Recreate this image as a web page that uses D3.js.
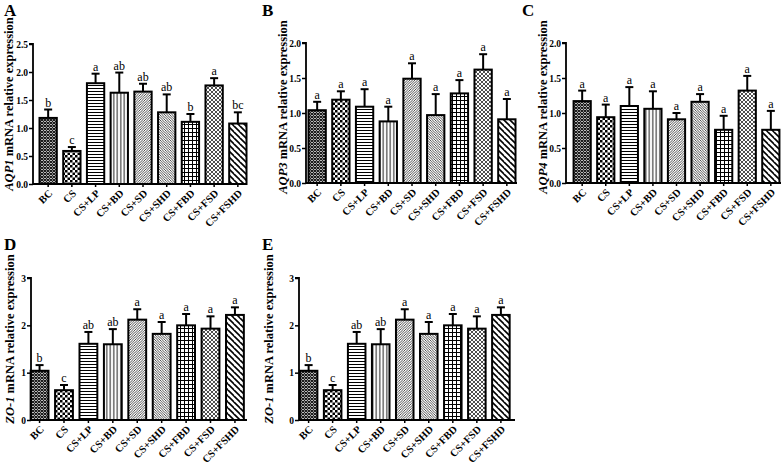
<!DOCTYPE html>
<html><head><meta charset="utf-8">
<script src="https://cdn.jsdelivr.net/npm/d3@7"></script>
<style>html,body{margin:0;padding:0;background:#fff;}svg{display:block;}</style>
</head><body>
<svg id="chart" width="784" height="470"></svg>
<script>
const categories = ["BC","CS","CS+LP","CS+BD","CS+SD","CS+SHD","CS+FBD","CS+FSD","CS+FSHD"];

const aqp1Mean = [1.18,0.59,1.80,1.63,1.65,1.28,1.11,1.76,1.08];
const aqp1Err  = [0.15,0.07,0.17,0.36,0.14,0.32,0.14,0.13,0.20];
const aqp1Sig  = ["b","c","a","ab","ab","ab","b","a","bc"];
const aqp1Ticks = [0,0.5,1.0,1.5,2.0,2.5];

const aqp3Mean = [1.04,1.19,1.09,0.88,1.49,0.97,1.28,1.62,0.91];
const aqp3Err  = [0.12,0.12,0.25,0.21,0.22,0.30,0.19,0.22,0.29];
const aqp3Sig  = ["a","a","a","a","a","a","a","a","a"];
const aqp3Ticks = [0,0.5,1.0,1.5,2.0];

const aqp4Mean = [1.17,0.94,1.10,1.06,0.91,1.16,0.76,1.32,0.76];
const aqp4Err  = [0.15,0.18,0.27,0.25,0.09,0.11,0.20,0.21,0.27];
const aqp4Sig  = ["a","a","a","a","a","a","a","a","a"];
const aqp4Ticks = [0,0.5,1.0,1.5,2.0];

const zo1Mean = [1.04,0.63,1.61,1.60,2.12,1.82,2.00,1.93,2.22];
const zo1Err  = [0.12,0.11,0.25,0.32,0.22,0.25,0.24,0.26,0.16];
const zo1Sig  = ["b","c","ab","ab","a","a","a","a","a"];
const zo1Ticks = [0,1,2,3];

const panels = [
  {label:"A", gene:"AQP1", mean:aqp1Mean, err:aqp1Err, sig:aqp1Sig, ticks:aqp1Ticks, fmt:".1f",
   x0:33, x1:247, c0:51, cN:235, yTop:44, yBot:184, lx:4, ly:16, tx:13, ty:104},
  {label:"B", gene:"AQP3", mean:aqp3Mean, err:aqp3Err, sig:aqp3Sig, ticks:aqp3Ticks, fmt:".1f",
   x0:306, x1:517, c0:320, cN:504, yTop:43, yBot:183, lx:262, ly:16, tx:287, ty:107},
  {label:"C", gene:"AQP4", mean:aqp4Mean, err:aqp4Err, sig:aqp4Sig, ticks:aqp4Ticks, fmt:".1f",
   x0:566, x1:781, c0:585, cN:768, yTop:43, yBot:183, lx:522, ly:16, tx:547, ty:107},
  {label:"D", gene:"ZO-1", mean:zo1Mean, err:zo1Err, sig:zo1Sig, ticks:zo1Ticks, fmt:"d",
   x0:31, x1:247, c0:42.5, cN:232, yTop:278, yBot:420, lx:4, ly:250, tx:14, ty:339},
  {label:"E", gene:"ZO-1", mean:zo1Mean, err:zo1Err, sig:zo1Sig, ticks:zo1Ticks, fmt:"d",
   x0:299, x1:515, c0:311.5, cN:498, yTop:278, yBot:420, lx:262, ly:250, tx:273, ty:339}
];

const svg = d3.select("#chart");
const defs = svg.append("defs");
const FONT = "'Liberation Serif','Times New Roman',serif";

function pat(id, w, h, build){
  const p = defs.append("pattern").attr("id", id).attr("patternUnits","userSpaceOnUse")
    .attr("width", w).attr("height", h);
  p.append("rect").attr("width", w).attr("height", h).attr("fill", "#fff");
  build(p);
}
pat("p0", 3, 3, p => p.append("path").attr("d","M0,0L3,3M3,0L0,3").attr("stroke","#111").attr("stroke-width",1.1));
pat("p1", 5, 5, p => { p.append("rect").attr("width",2.5).attr("height",2.5).attr("fill","#000");
  p.append("rect").attr("x",2.5).attr("y",2.5).attr("width",2.5).attr("height",2.5).attr("fill","#000"); });
pat("p2", 4, 3, p => p.append("path").attr("d","M0,1.5H4").attr("stroke","#000").attr("stroke-width",1));
pat("p3", 3.5, 4, p => p.append("path").attr("d","M1.75,0V4").attr("stroke","#000").attr("stroke-width",0.9));
pat("p4", 2.5, 2.5, p => p.append("path").attr("d","M0,2.5L2.5,0M-1,1L1,-1M1.5,3.5L3.5,1.5").attr("stroke","#222").attr("stroke-width",0.8));
pat("p5", 2.5, 2.5, p => p.append("path").attr("d","M0,0L2.5,2.5M-1,1.5L1,3.5M1.5,-1L3.5,1").attr("stroke","#222").attr("stroke-width",0.8));
pat("p6", 4, 4, p => p.append("path").attr("d","M0,0.5H4M0.5,0V4").attr("stroke","#000").attr("stroke-width",1));
pat("p7", 4, 4, p => p.append("path").attr("d","M0,4L4,0M-1,1L1,-1M3,5L5,3M0,0L4,4").attr("stroke","#222").attr("stroke-width",0.8));
pat("p8", 6, 6, p => p.append("path").attr("d","M0,0L6,6M-3,3L0,6M3,-3L9,3M6,0L9,3").attr("stroke","#000").attr("stroke-width",1.6));

panels.forEach(P => {
  const n = categories.length;
  const step = (P.cN - P.c0) / (n - 1);
  const x = d3.scaleBand().domain(categories)
    .range([P.c0 - step/2, P.cN + step/2]).paddingInner(0.27).paddingOuter(0);
  const y = d3.scaleLinear().domain([0, d3.max(P.ticks)]).range([P.yBot, P.yTop]);
  const g = svg.append("g");

  g.selectAll("rect.bar").data(categories).join("rect")
    .attr("x", d => x(d)).attr("width", x.bandwidth())
    .attr("y", (d,i) => y(P.mean[i])).attr("height", (d,i) => P.yBot - y(P.mean[i]))
    .attr("fill", (d,i) => `url(#p${i})`).attr("stroke","#000").attr("stroke-width",2);

  const eb = g.selectAll("g.eb").data(categories).join("g");
  eb.append("line")
    .attr("x1", d => x(d) + x.bandwidth()/2).attr("x2", d => x(d) + x.bandwidth()/2)
    .attr("y1", (d,i) => y(P.mean[i])).attr("y2", (d,i) => y(P.mean[i] + P.err[i]))
    .attr("stroke","#000").attr("stroke-width",2);
  eb.append("line")
    .attr("x1", d => x(d) + x.bandwidth()/2 - 4).attr("x2", d => x(d) + x.bandwidth()/2 + 4)
    .attr("y1", (d,i) => y(P.mean[i] + P.err[i])).attr("y2", (d,i) => y(P.mean[i] + P.err[i]))
    .attr("stroke","#000").attr("stroke-width",2);

  g.selectAll("text.sig").data(categories).join("text")
    .attr("x", d => x(d) + x.bandwidth()/2).attr("y", (d,i) => y(P.mean[i] + P.err[i]) - 3)
    .attr("text-anchor","middle").attr("font-family",FONT).attr("font-size",12)
    .text((d,i) => P.sig[i]);

  const ya = d3.axisLeft(y).tickValues(P.ticks).tickFormat(d3.format(P.fmt)).tickSize(4).tickPadding(1);
  const yg = g.append("g").attr("transform",`translate(${P.x0},0)`).call(ya);
  yg.select(".domain").attr("stroke-width",1.8).attr("d", `M-4,${P.yTop}H0V${P.yBot}`);
  yg.selectAll(".tick line").attr("stroke-width",1.5);
  yg.selectAll("text").attr("font-family",FONT).attr("font-weight","bold").attr("font-size",9.5).attr("fill","#000");

  const xa = d3.axisBottom(x).tickSize(3).tickFormat("");
  const xg = g.append("g").attr("transform",`translate(0,${P.yBot})`).call(xa);
  xg.select(".domain").attr("d", `M${P.x0},0H${P.x1}`).attr("stroke-width",1.8);
  xg.selectAll(".tick line").attr("stroke-width",1.5);
  g.selectAll("text.cat").data(categories).join("text")
    .attr("transform", d => `translate(${x(d) + x.bandwidth()/2 + 5},${P.yBot + 10}) rotate(-45)`)
    .attr("text-anchor","end").attr("font-family",FONT).attr("font-weight","bold").attr("font-size",10.5)
    .text(d => d);

  const t = g.append("text").attr("transform",`translate(${P.tx},${P.ty}) rotate(-90)`)
    .attr("text-anchor","middle").attr("font-family",FONT).attr("font-weight","bold").attr("font-size",12.5);
  t.append("tspan").attr("font-style","italic").text(P.gene);
  t.append("tspan").text(" mRNA relative expression");

  svg.append("text").attr("x",P.lx).attr("y",P.ly).attr("font-family",FONT).attr("font-weight","bold")
    .attr("font-size",17).text(P.label);
});
</script>
</body></html>
